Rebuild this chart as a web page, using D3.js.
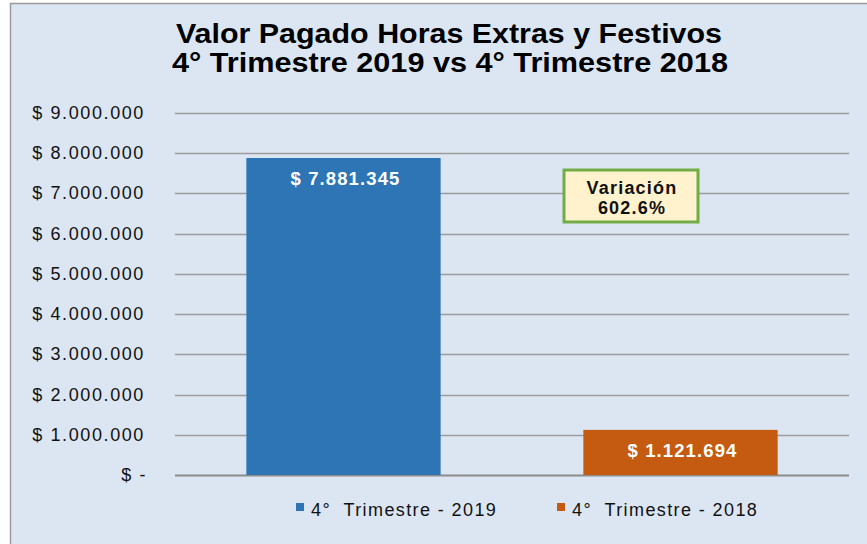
<!DOCTYPE html>
<html lang="es">
<head>
    <meta charset="UTF-8">
    <title>Valor Pagado Horas Extras y Festivos</title>
    <script src="https://cdn.jsdelivr.net/npm/d3@7/dist/d3.min.js"></script>
    <style>
        body { margin: 0; background: #fff; }
        text { font-family: "Liberation Sans", Arial, sans-serif; }
    </style>
</head>
<body>
    <script>
        // data
        var categories = ["4° Trimestre - 2019", "4° Trimestre - 2018"];
        var values = [7881345, 1121694];
        var barLabels = ["$ 7.881.345", "$ 1.121.694"];
        var colors = ["#2E75B6", "#C55A11"];
        var yTicks = [0, 1000000, 2000000, 3000000, 4000000, 5000000, 6000000, 7000000, 8000000, 9000000];
        var variacion = ["Variación", "602.6%"];

        var w = 867, h = 544;
        var plot = { left: 175, right: 849, top: 113, bottom: 475 };

        var svg = d3.select("body").append("svg")
            .attr("width", w)
            .attr("height", h);

        // chart area background + border
        svg.append("rect")
            .attr("x", 10.5).attr("y", 3.5)
            .attr("width", w + 10).attr("height", h + 10)
            .attr("fill", "#DCE6F2")
            .attr("stroke", "#9A9A9A")
            .attr("stroke-width", 1.5);

        // title
        var title = svg.append("text")
            .attr("text-anchor", "middle")
            .attr("font-weight", "bold")
            .attr("font-size", 28)
            .attr("fill", "#000");
        title.append("tspan").attr("x", 449).attr("y", 43)
            .attr("textLength", 546).attr("lengthAdjust", "spacingAndGlyphs")
            .text("Valor Pagado Horas Extras y Festivos");
        title.append("tspan").attr("x", 450).attr("y", 72)
            .attr("textLength", 556).attr("lengthAdjust", "spacingAndGlyphs")
            .text("4° Trimestre 2019 vs 4° Trimestre 2018");

        // scales
        var x = d3.scaleBand()
            .domain(categories)
            .range([plot.left, plot.right])
            .paddingInner(0.4235)
            .paddingOuter(0.21175);

        var y = d3.scaleLinear()
            .domain([0, 9000000])
            .range([plot.bottom, plot.top]);

        // gridlines
        svg.append("g").selectAll("line")
            .data(yTicks)
            .enter()
            .append("line")
            .attr("x1", plot.left).attr("x2", plot.right)
            .attr("y1", function(d) { return Math.round(y(d)) + 0.5; })
            .attr("y2", function(d) { return Math.round(y(d)) + 0.5; })
            .attr("stroke", function(d) { return d === 0 ? "#8C8C8C" : "#9C9C9C"; })
            .attr("stroke-width", function(d) { return d === 0 ? 2 : 1.3; });

        // y tick labels
        var fmt = function(d) {
            if (d === 0) return "$ -";
            return "$ " + d3.format(",")(d).replace(/,/g, ".");
        };
        svg.append("g").selectAll("text")
            .data(yTicks)
            .enter()
            .append("text")
            .attr("x", function(d) { return d === 0 ? 147 : 145; })
            .attr("y", function(d) { return y(d) + 6; })
            .attr("text-anchor", "end")
            .attr("font-size", 18)
            .attr("letter-spacing", 1.6)
            .attr("fill", "#111")
            .text(fmt);

        // bars
        svg.append("g").selectAll("rect")
            .data(values)
            .enter()
            .append("rect")
            .attr("x", function(d, i) { return x(categories[i]); })
            .attr("y", function(d) { return y(d); })
            .attr("width", x.bandwidth())
            .attr("height", function(d) { return y(0) - y(d); })
            .attr("fill", function(d, i) { return colors[i]; });

        // bar labels
        svg.append("g").selectAll("text")
            .data(values)
            .enter()
            .append("text")
            .attr("x", function(d, i) { return x(categories[i]) + x.bandwidth() / 2 + 2; })
            .attr("y", function(d) { return y(d) + 27; })
            .attr("text-anchor", "middle")
            .attr("font-weight", "bold")
            .attr("font-size", 18.5)
            .attr("letter-spacing", 1.1)
            .attr("fill", "#fff")
            .text(function(d, i) { return barLabels[i]; });

        // variation box
        svg.append("rect")
            .attr("x", 564).attr("y", 170)
            .attr("width", 134).attr("height", 52)
            .attr("fill", "#FFF2CC")
            .attr("stroke", "#70AD47")
            .attr("stroke-width", 3);
        svg.append("g").selectAll("text")
            .data(variacion)
            .enter()
            .append("text")
            .attr("x", 632)
            .attr("y", function(d, i) { return 194 + i * 20; })
            .attr("text-anchor", "middle")
            .attr("font-weight", "bold")
            .attr("font-size", 18)
            .attr("letter-spacing", 1.2)
            .attr("fill", "#111")
            .text(function(d) { return d; });

        // legend
        var legendX = [296, 557];
        var legend = svg.append("g").selectAll("g")
            .data(categories)
            .enter()
            .append("g")
            .attr("transform", function(d, i) { return "translate(" + legendX[i] + ",503)"; });
        legend.append("rect")
            .attr("width", 8).attr("height", 8)
            .attr("fill", function(d, i) { return colors[i]; });
        legend.append("text")
            .attr("x", 15).attr("y", 13)
            .attr("font-size", 18)
            .attr("letter-spacing", 1.4)
            .attr("fill", "#111")
            .text(function(d) { return d.replace("° ", "°  "); })
            .attr("xml:space", "preserve");
    </script>
</body>
</html>
